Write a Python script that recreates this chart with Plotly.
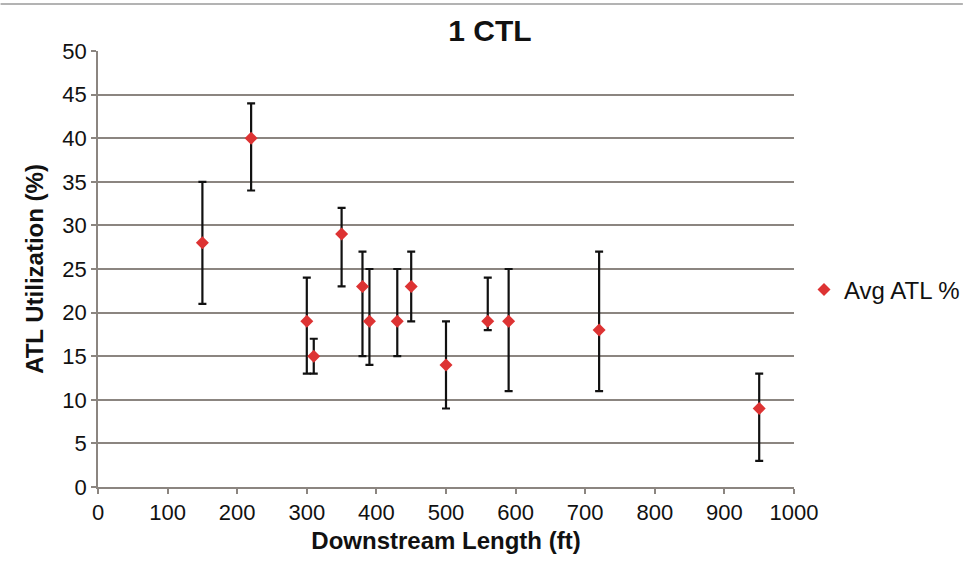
import plotly.graph_objects as go

# Downstream length (ft) and average ATL utilization (%) with min/max spread
downstream_ft = [150, 220, 300, 310, 350, 380, 390, 430, 450, 500, 560, 590, 720, 950]
avg_atl = [28, 40, 19, 15, 29, 23, 19, 19, 23, 14, 19, 19, 18, 9]
atl_max = [35, 44, 24, 17, 32, 27, 25, 25, 27, 19, 24, 25, 27, 13]
atl_min = [21, 34, 13, 13, 23, 15, 14, 15, 19, 9, 18, 11, 11, 3]

x_ticks = list(range(0, 1001, 100))
y_ticks = list(range(0, 51, 5))

err_plus = [hi - v for hi, v in zip(atl_max, avg_atl)]
err_minus = [v - lo for lo, v in zip(atl_min, avg_atl)]

FONT = "Liberation Sans, Arial, Helvetica, sans-serif"
GRID = "#8b8580"
W, H = 968, 565
ML, MR, MT, MB = 97.5, 174, 51, 78

fig = go.Figure()
fig.add_trace(go.Scatter(
    x=downstream_ft,
    y=avg_atl,
    mode="markers",
    name="Avg ATL %",
    marker=dict(symbol="diamond", size=10, color="#dd3333", line=dict(width=0)),
    error_y=dict(
        type="data",
        symmetric=False,
        array=err_plus,
        arrayminus=err_minus,
        color="#111111",
        thickness=2.2,
        width=4,
    ),
    showlegend=True,
))

plot_w = W - ML - MR
plot_h = H - MT - MB

# thin rule across the top of the figure
fig.add_shape(
    type="line", xref="paper", yref="paper",
    x0=(0 - ML) / plot_w, x1=(963 - ML) / plot_w,
    y0=(H - MB - 4) / plot_h, y1=(H - MB - 4) / plot_h,
    line=dict(color="#9a9a9a", width=1.5),
)

fig.update_layout(
    width=W,
    height=H,
    margin=dict(l=ML, r=MR, t=MT, b=MB, autoexpand=False),
    paper_bgcolor="white",
    plot_bgcolor="white",
    font=dict(family=FONT, color="#111111"),
    title=dict(
        text="<b>1 CTL</b>",
        font=dict(size=30, family=FONT, color="#111111"),
        x=490 / W, xref="container", xanchor="center",
        y=1 - 30 / H, yref="container", yanchor="middle",
    ),
    legend=dict(
        x=1.0144, y=(H - MB - 290) / plot_h,
        xanchor="left", yanchor="middle",
        font=dict(size=24, family=FONT, color="#111111"),
        bgcolor="rgba(0,0,0,0)",
    ),
    xaxis=dict(
        range=[0, 1000],
        tickvals=x_ticks,
        ticktext=[str(v) for v in x_ticks],
        showgrid=False,
        zeroline=False,
        showline=True,
        linecolor=GRID,
        linewidth=1.5,
        ticks="outside",
        ticklen=5,
        tickcolor=GRID,
        tickwidth=1.5,
        tickfont=dict(size=22, family=FONT, color="#111111"),
        title=dict(
            text="<b>Downstream Length (ft)</b>",
            font=dict(size=24, family=FONT, color="#111111"),
            standoff=8,
        ),
        automargin=False,
    ),
    yaxis=dict(
        range=[0, 50],
        tickvals=y_ticks,
        ticktext=[str(v) for v in y_ticks],
        showgrid=True,
        gridcolor=GRID,
        gridwidth=1.5,
        zeroline=False,
        showline=True,
        linecolor=GRID,
        linewidth=1.5,
        ticks="outside",
        ticklen=5,
        tickcolor=GRID,
        tickwidth=1.5,
        tickfont=dict(size=22, family=FONT, color="#111111"),
        title=dict(
            text="<b>ATL Utilization (%)</b>",
            font=dict(size=24, family=FONT, color="#111111"),
            standoff=12,
        ),
        automargin=False,
    ),
)

fig.write_html("out.html")
